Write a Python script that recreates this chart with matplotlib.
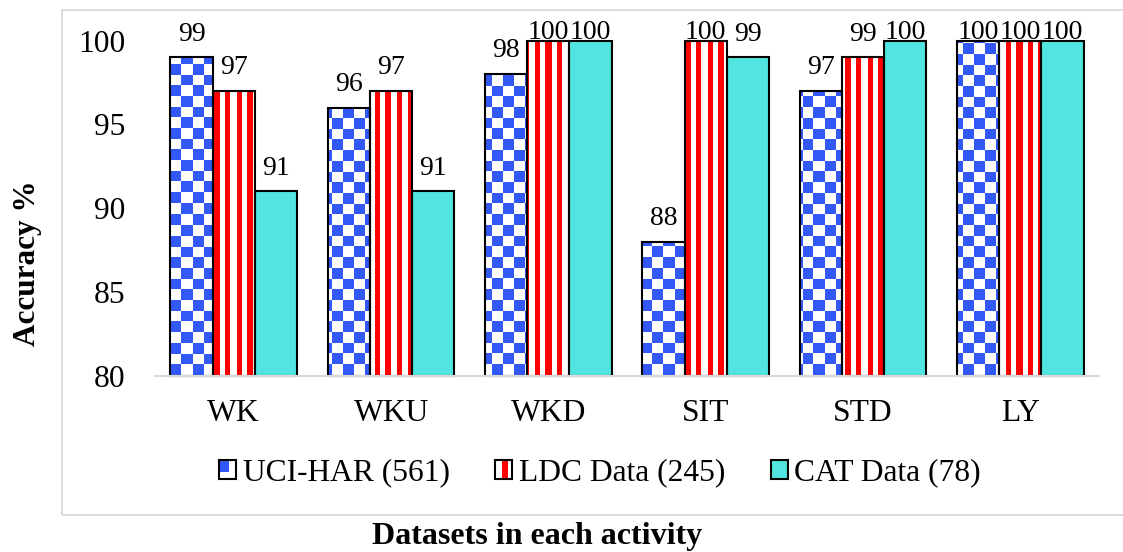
import numpy as np
import matplotlib
matplotlib.use('Agg')
import matplotlib.pyplot as plt
from matplotlib.patches import Rectangle
from matplotlib.legend_handler import HandlerBase

# ---- data ----
categories = ['WK', 'WKU', 'WKD', 'SIT', 'STD', 'LY']
series_names = ['UCI-HAR (561)', 'LDC Data (245)', 'CAT Data (78)']
uci_har = [99, 96, 98, 88, 97, 100]
ldc_data = [97, 97, 100, 100, 99, 100]
cat_data = [91, 91, 100, 99, 100, 100]
y_ticks = [80, 85, 90, 95, 100]

# ---- style ----
BLUE = '#3358F8'
RED = '#FF0000'
CYAN = '#52E5E0'
LINE_GRAY = '#D9D9D9'
TICK_SIZE = 22.7
LABEL_SIZE = 20
BAR_W = 0.268
CELL_PX = 10.7          # checker / stripe period in pixels

plt.rcParams['font.family'] = ['Liberation Serif', 'DejaVu Serif']

W_PX, H_PX = 1123, 552
fig = plt.figure(figsize=(W_PX / 100, H_PX / 100), dpi=100)
ax = fig.add_axes([155 / W_PX, (H_PX - 375.6) / H_PX, 944 / W_PX, 335 / H_PX])
ax.set_xlim(-0.5, len(categories) - 0.5)
ax.set_ylim(y_ticks[0], y_ticks[-1])

# outer chart frame
fig.patches.append(Rectangle((62 / W_PX, (H_PX - 515) / H_PX), 1.2, (515 - 9.5) / H_PX,
                             transform=fig.transFigure, fill=False,
                             edgecolor=LINE_GRAY, linewidth=1.3, zorder=0))


def checker_rgb(px, py):
    parity = (np.floor(px / CELL_PX) + np.floor(py / CELL_PX)) % 2
    blue = np.array(matplotlib.colors.to_rgb(BLUE))
    white = np.ones(3)
    return np.where(parity[..., None] == 0, blue, white)


def stripe_rgb(px, py):
    phase = (px / CELL_PX) % 1.0
    red = np.array(matplotlib.colors.to_rgb(RED))
    white = np.ones(3)
    return np.where((phase < 0.5)[..., None], red, white)


def fill_pattern(bar, func):
    x0, y0 = bar.get_x(), bar.get_y()
    x1, y1 = x0 + bar.get_width(), y0 + bar.get_height()
    (dx0, dy0), (dx1, dy1) = ax.transData.transform([(x0, y0), (x1, y1)])
    nx = max(int(round(dx1 - dx0)), 1)
    ny = max(int(round(dy1 - dy0)), 1)
    px = np.linspace(dx0 + 0.5, dx1 - 0.5, nx)
    py = np.linspace(dy0 + 0.5, dy1 - 0.5, ny)
    PX, PY = np.meshgrid(px, py)
    img = func(PX, H_PX - PY)
    im = ax.imshow(img, extent=(x0, x1, y0, y1), origin='lower',
                   interpolation='nearest', aspect='auto', zorder=2)
    im.set_clip_path(bar)
    im.set_clip_on(False)


x = np.arange(len(categories))
series = [uci_har, ldc_data, cat_data]
offsets = [-BAR_W, 0.0, BAR_W]
fills = ['white', 'white', CYAN]
patterns = [checker_rgb, stripe_rgb, None]
base = y_ticks[0]

for vals, off, fc, pat in zip(series, offsets, fills, patterns):
    vals = np.asarray(vals, dtype=float)
    bars = ax.bar(x + off, vals - base, bottom=base, width=BAR_W,
                  facecolor=fc, edgecolor='none', zorder=1, clip_on=False)
    if pat is not None:
        for b in bars:
            fill_pattern(b, pat)
    ax.bar(x + off, vals - base, bottom=base, width=BAR_W,
           facecolor='none', edgecolor='black', linewidth=1.5, zorder=3,
           clip_on=False)
    for xi, v in zip(x + off, vals):
        ax.text(xi, min(v + 1.0, 100.08), f'{v:.0f}', ha='center',
                va='baseline', fontsize=LABEL_SIZE, color='black',
                clip_on=False, zorder=4)

ax.set_xlim(-0.5, len(categories) - 0.5)
ax.set_ylim(y_ticks[0], y_ticks[-1])

# axes styling
for side in ['left', 'top', 'right']:
    ax.spines[side].set_visible(False)
ax.spines['bottom'].set_color(LINE_GRAY)
ax.spines['bottom'].set_linewidth(1.5)
ax.spines['bottom'].set_zorder(5)
ax.set_xticks(x)
ax.set_xticklabels(categories)
ax.set_yticks(y_ticks)
ax.tick_params(axis='x', length=0, pad=17, labelsize=TICK_SIZE, colors='black')
ax.tick_params(axis='y', length=0, pad=21, labelsize=TICK_SIZE, colors='black')


# legend swatches
class SwatchHandler(HandlerBase):
    def __init__(self, kind):
        super().__init__()
        self.kind = kind

    def create_artists(self, legend, orig_handle, xdescent, ydescent,
                       width, height, fontsize, trans):
        x0, y0 = -xdescent, -ydescent
        bg = CYAN if self.kind == 'cat' else 'white'
        arts = [Rectangle((x0, y0), width, height, facecolor=bg,
                          edgecolor='none', transform=trans)]
        if self.kind == 'uci':
            arts.append(Rectangle((x0, y0 + 0.35 * height), 0.55 * width,
                                  0.65 * height, facecolor=BLUE,
                                  edgecolor='none', transform=trans))
        elif self.kind == 'ldc':
            arts.append(Rectangle((x0 + 0.42 * width, y0), 0.34 * width,
                                  height, facecolor=RED, edgecolor='none',
                                  transform=trans))
        arts.append(Rectangle((x0, y0), width, height, facecolor='none',
                              edgecolor='black', linewidth=1.5,
                              transform=trans))
        return arts


proxies = [Rectangle((0, 0), 1, 1) for _ in series_names]
kinds = ['uci', 'ldc', 'cat']
ax.legend(proxies, series_names,
          handler_map={p: SwatchHandler(k) for p, k in zip(proxies, kinds)},
          ncol=3, loc='center', bbox_to_anchor=(600 / W_PX, 1 - 473 / H_PX),
          bbox_transform=fig.transFigure, frameon=False,
          handlelength=0.54, handleheight=0.54, handletextpad=0.2,
          columnspacing=1.45, borderpad=0, borderaxespad=0,
          fontsize=TICK_SIZE)

# axis titles
fig.text(28 / W_PX, 1 - 263 / H_PX, 'Accuracy %', rotation=90,
         ha='center', va='center', fontsize=22.5, fontweight='bold')
fig.text(537 / W_PX, (H_PX - 544) / H_PX, 'Datasets in each activity',
         ha='center', va='baseline', fontsize=23, fontweight='bold')

fig.savefig('out.png', dpi=100)
